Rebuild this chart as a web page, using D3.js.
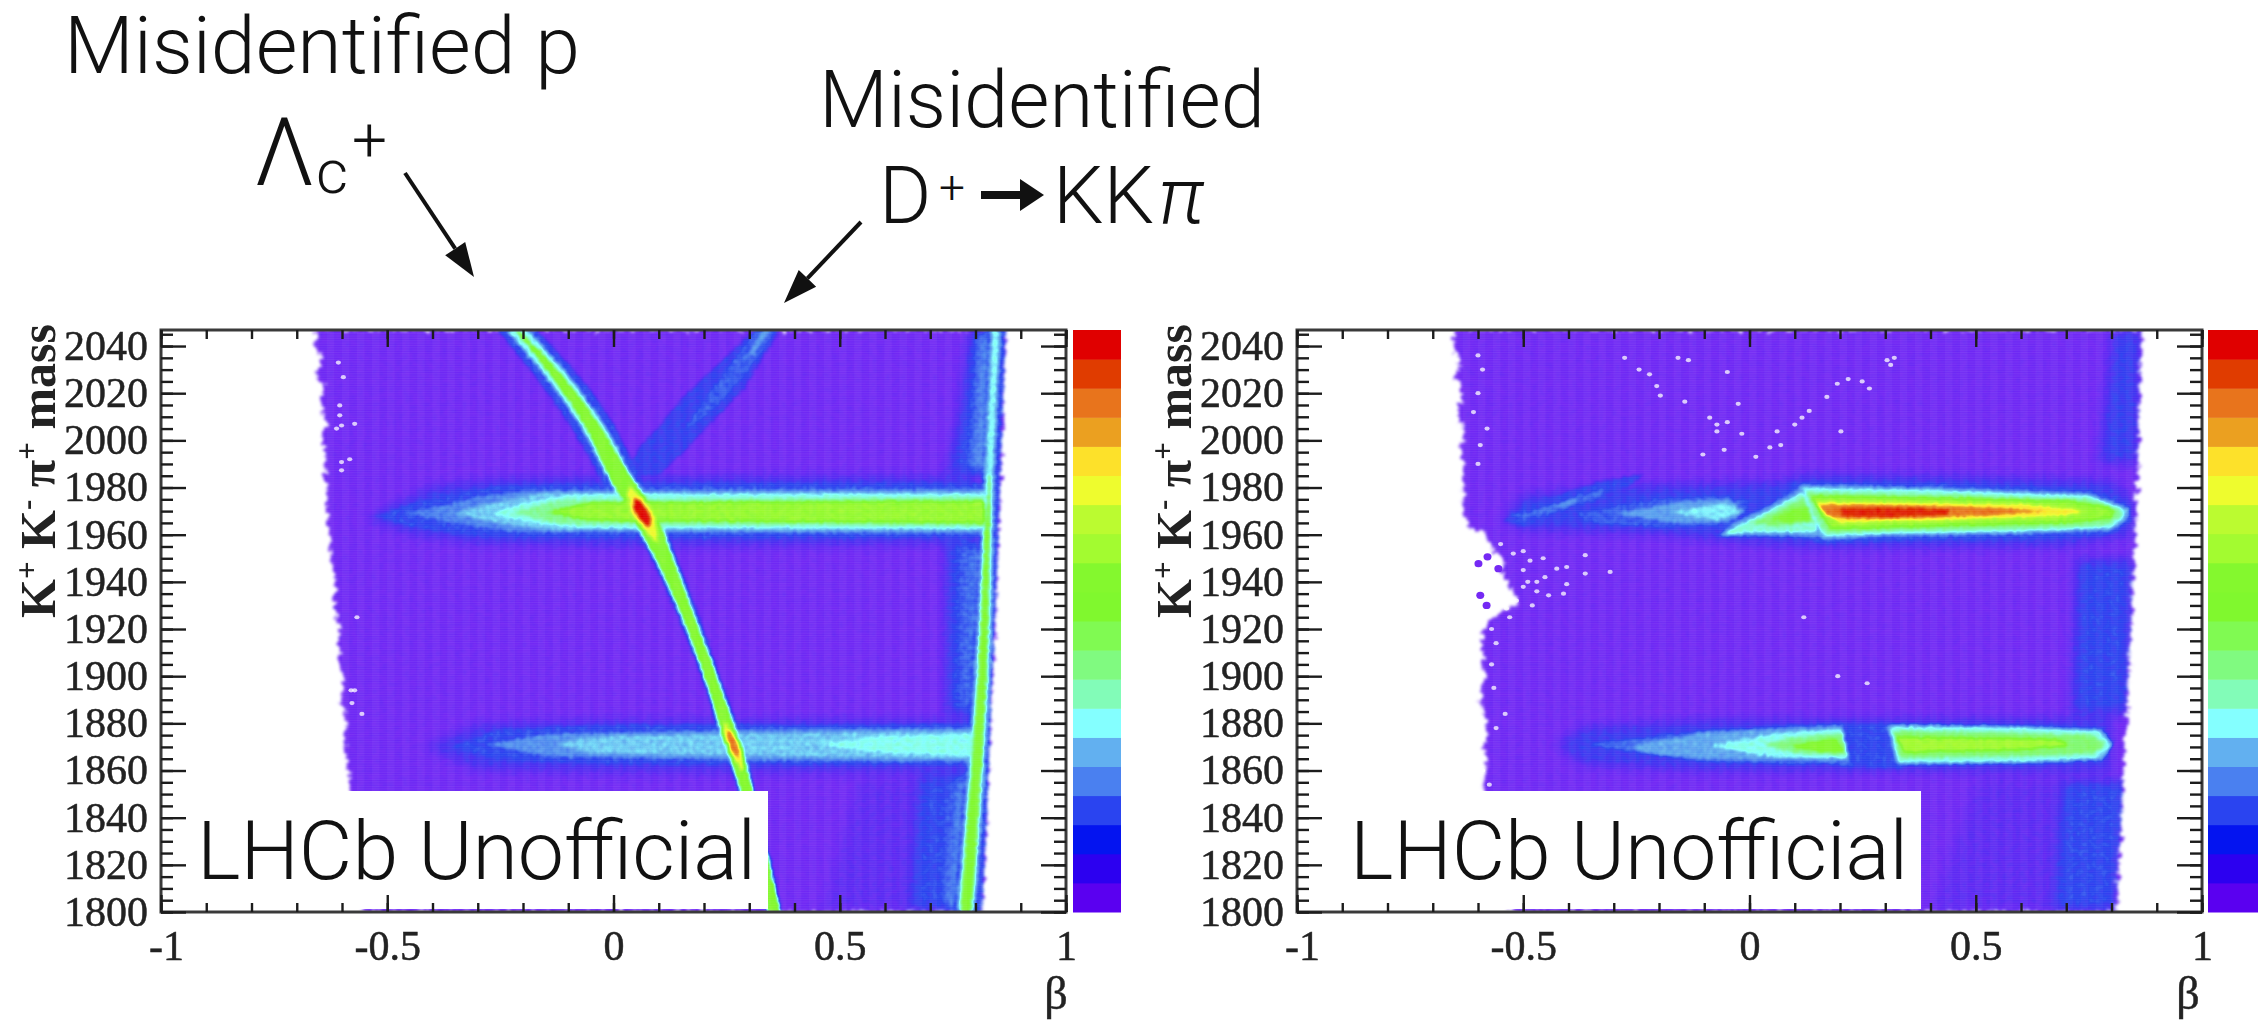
<!DOCTYPE html>
<html><head><meta charset="utf-8">
<style>html,body{margin:0;padding:0;background:#fff}svg{display:block}</style>
<script src="https://cdn.jsdelivr.net/npm/d3@7"></script>
</head><body><svg id="c" width="2261" height="1021"></svg>
<script>
// ---------- palette and axis values ----------
const palette=["#5a00f0","#2c00f0","#0414f0","#2a44f0","#4a80f0","#62b0f0","#84ffff","#82fcb8","#80fa80","#80fa52","#80f82e","#84f82e","#a3fb30","#bbfb30","#eefc2e","#fde12a","#eba020","#e8741c","#e03c00","#e00000"];
const heatStops=["#7529f4","#6428f4","#4a2ef2","#2a44f0","#4a80f0","#62b0f0","#84ffff","#82fcb8","#80fa80","#80fa52","#80f82e","#84f82e","#a3fb30","#bbfb30","#eefc2e","#fde12a","#eba020","#e8741c","#e03c00","#e00000","#e00000"];
const betaMajor=[-1,-0.5,0,0.5,1];
const betaLabels=["-1","-0.5","0","0.5","1"];
const betaMinor=d3.range(-10,11).map(d=>d/10);
const massMajor=d3.range(1800,2041,20);
const massMinor=d3.range(1800,2046,5);
const barTicksLeft=[0,1,2,3,4,5,6];
const barTicksRight=[0,1,2,3,4,5,6,7];

// ---------- LEFT panel : [beta,mass] outlines, [z,outline] bands, [mass,beta,halfWidth] ribbons ----------
const leftEnvelope=[[-.655,2047],[-.66,2040],[-.645,2034],[-.655,2028],[-.64,2022],[-.648,2015],[-.635,2008],[-.645,2000],[-.635,1992],[-.64,1985],[-.63,1978],[-.635,1970],[-.628,1960],[-.625,1950],[-.615,1940],[-.618,1930],[-.605,1920],[-.608,1910],[-.598,1900],[-.602,1890],[-.59,1880],[-.595,1870],[-.585,1860],[-.58,1850],[-.575,1840],[-.57,1825],[-.56,1810],[-.552,1800],[.815,1800],[.825,1840],[.837,1898],[.845,1930],[.857,1996],[.862,2020],[.867,2047]];
const leftDiffuse=[
 [1.7,.7,[[.46,1800],[.72,1800],[.72,1856],[.54,1856]]],
 [3,1,[[.653,1800],[.82,1800],[.84,1858],[.675,1858]]],
 [3,1,[[.733,1884],[.84,1884],[.84,1956],[.733,1956]]],
 [2.8,1,[[.786,2047],[.86,2047],[.85,1986],[.735,1986],[.76,2010]]],
 [4.2,1,[[.735,1800],[.80,1800],[.83,1858],[.76,1858]]],
 [3.8,1,[[.775,1884],[.83,1884],[.84,1956],[.775,1956]]],
 [4.2,1,[[.808,2047],[.85,2047],[.84,1986],[.785,1986],[.8,2010]]],
 [2.8,.9,[[-.55,1967],[-.4,1981],[-.25,1984],[0,1985],[.8,1985],[.8,1956],[0,1955],[-.3,1956],[-.45,1960]]],
 [2.6,.9,[[-.42,1870],[-.3,1880],[0,1882],[.8,1882],[.8,1859],[0,1859],[-.3,1860]]]
];
const leftBands=[
 [3,[[-.53,1968],[-.42,1975],[-.25,1981],[0,1982],[.82,1982],[.82,1958.5],[0,1958.5],[-.3,1959],[-.45,1963]]],
 [4,[[-.46,1969],[-.3,1976],[-.2,1979],[.82,1979.5],[.82,1960.5],[-.2,1961],[-.3,1963]]],
 [5.3,[[-.36,1969],[-.25,1974.5],[-.15,1978],[.82,1978.3],[.82,1961.6],[-.15,1962],[-.25,1964.5]]],
 [6.4,[[-.27,1969],[-.17,1974.5],[-.08,1977],[.82,1977],[.82,1962.7],[-.08,1963.2],[-.17,1965]]],
 [7.6,[[-.22,1969.5],[-.12,1974.5],[.82,1975.8],[.82,1963.8],[-.12,1964.5]]],
 [11.6,[[-.15,1969.5],[-.05,1973.6],[.82,1974.3],[.82,1965],[-.05,1966]]],
 [3,[[-.36,1870],[-.25,1878],[0,1879.5],[.8,1880],[.8,1862],[0,1862.5],[-.25,1864]]],
 [4.3,[[-.28,1871],[-.15,1875.5],[.3,1877.3],[.8,1878],[.8,1863.5],[.3,1864.5],[-.15,1866]]],
 [5.3,[[-.13,1871],[-.05,1874.5],[.3,1875.8],[.8,1876.7],[.8,1865],[.3,1866],[-.05,1867.2]]],
 [6.2,[[.45,1871],[.6,1874.5],[.8,1875.6],[.8,1866],[.6,1867.5]]],
 [2.7,[[.02,1985],[.06,1998],[.1,2006],[.15,2018],[.24,2034],[.31,2047],[.37,2047],[.29,2022],[.2,2004],[.15,1994],[.1,1985]]],
 [3.4,[[.315,2047],[.362,2047],[.3,2030],[.22,2013],[.15,2003],[.22,2022]]],
 [4.6,[[.33,2047],[.35,2047],[.31,2037],[.29,2034]]]
];
const lambdaBlue=[[1800,.355,.018],[1851.7,.294,.02],[1871.6,.263,.025],[1898,.218,.022],[1932.7,.15,.026],[1952.5,.106,.03],[1969.5,.064,.04],[1985,.013,.045],[2006,-.046,.05],[2027.5,-.126,.05],[2047,-.214,.045]];
const lambdaCyan=[[1800,.355,.015],[1851.7,.294,.016],[1871.6,.263,.02],[1898,.218,.016],[1932.7,.15,.018],[1952.5,.106,.024],[1969.5,.064,.032],[1985,.013,.028],[2006,-.046,.027],[2027.5,-.126,.026],[2047,-.214,.024]];
const lambdaGreen=[[1800,.355,.011],[1851.7,.294,.011],[1871.6,.263,.014],[1898,.218,.011],[1932.7,.15,.012],[1952.5,.106,.018],[1969.5,.064,.026],[1985,.013,.022],[2006,-.046,.015],[2027.5,-.126,.011],[2047,-.214,.002]];
const spineOuter=[[1800,.785,.032],[1900,.82,.03],[1980,.838,.024],[2047,.85,.022]];
const spineLight=[[1800,.779,.02],[1900,.815,.018],[1980,.83,.012],[2047,.845,.012]];
const spineCyan=[[1800,.779,.016],[1900,.815,.012],[1980,.83,.007],[2047,.845,.006]];
const spineGreen=[[1800,.779,.012],[1900,.815,.009],[1960,.826,.005],[1985,.832,.001]];
const peakYellowA=[[1980,.037,.003],[1975,.05,.018],[1969.5,.063,.024],[1964,.077,.018],[1957,.095,.004]];
const peakOrangeA=[[1976,.048,.002],[1972,.056,.014],[1969.5,.063,.017],[1966,.072,.014],[1963,.079,.002]];
const peakRedA=[[1975,.05,.002],[1972,.056,.01],[1969.5,.063,.013],[1966,.07,.01],[1963.5,.076,.002]];
const peakYellowB=[[1880,.245,.002],[1875,.255,.012],[1871,.265,.015],[1866,.275,.012],[1860,.285,.002]];
const peakOrangeB=[[1877,.253,.002],[1872,.262,.008],[1869,.268,.008],[1865,.276,.002]];
const leftRibbons=[[3,lambdaBlue],[6,lambdaCyan],[11,lambdaGreen],[3,spineOuter],[5,spineLight],[6,spineCyan],[10,spineGreen],[14,peakYellowA],[17,peakOrangeA],[19,peakRedA],[14,peakYellowB],[17,peakOrangeB]];
const leftHoles=[[-.608,2033],[-.597,2026.8],[-.605,2014.8],[-.612,2005],[-.601,2006.3],[-.572,2007],[-.605,2010.6],[-.583,1992],[-.601,1990.8],[-.601,1987.3],[-.572,1894],[-.578,1888.6],[-.556,1884],[-.567,1925],[-.58,1894]];
const leftBlobs=[];

// ---------- RIGHT panel ----------
const rightEnvelope=[[-.65,2047],[-.655,2040],[-.64,2034],[-.65,2028],[-.635,2020],[-.645,2012],[-.63,2005],[-.64,1996],[-.628,1988],[-.636,1982],[-.632,1978],[-.632,1970],[-.621,1962.6],[-.588,1960.5],[-.57,1954.8],[-.54,1949],[-.548,1943.5],[-.529,1937.9],[-.507,1932],[-.536,1928],[-.57,1925],[-.588,1919.5],[-.592,1910],[-.585,1900],[-.595,1890],[-.58,1880],[-.585,1870],[-.58,1860],[-.592,1852],[-.57,1840],[-.56,1820],[-.527,1800],[.81,1800],[.825,1850],[.838,1900],[.853,1960],[.86,2000],[.867,2047]];
const rightDiffuse=[
 [1.7,.7,[[.4,1800],[.68,1800],[.72,1856],[.5,1856]]],
 [3,1,[[.67,1800],[.81,1800],[.84,1856],[.69,1856]]],
 [2.9,1,[[.71,1884],[.84,1884],[.85,1950],[.72,1950]]],
 [2.7,1,[[.77,1990],[.86,1990],[.867,2047],[.80,2047]]],
 [2.8,.95,[[-.55,1966],[-.5,1977],[-.3,1981],[.07,1983],[.12,1986],[.5,1985],[.8,1983],[.85,1975],[.85,1960],[.7,1955],[.15,1954.5],[0,1956],[-.2,1960],[-.5,1962]]],
 [2.8,.9,[[-.43,1871],[-.37,1879],[-.1,1882],[.8,1882.5],[.8,1859.5],[-.1,1859.5],[-.37,1862]]]
];
const rightBands=[
 [3,[[.09,1982.5],[.4,1982],[.75,1979.5],[.84,1973],[.845,1966],[.8,1959.5],[.6,1958],[.3,1957],[.16,1956],[.09,1960]]],
 [5,[[.108,1981],[.4,1980],[.75,1977.5],[.835,1971.5],[.84,1967.5],[.8,1962],[.6,1960.5],[.3,1959.5],[.16,1958],[.125,1968]]],
 [6.4,[[.118,1979.7],[.4,1978.7],[.75,1976.3],[.825,1971],[.83,1968],[.8,1963],[.6,1961.5],[.3,1960.5],[.166,1959.3],[.135,1969]]],
 [7.8,[[.126,1978],[.4,1977.3],[.75,1975],[.815,1971],[.82,1968],[.79,1964],[.6,1962.5],[.3,1961.5],[.172,1960.5],[.143,1969]]],
 [11.5,[[.136,1976.5],[.4,1975.8],[.7,1974.3],[.785,1972.3],[.805,1970],[.8,1967],[.7,1965],[.4,1963.5],[.18,1962.3],[.155,1969]]],
 [14.5,[[.148,1974],[.4,1973.5],[.6,1973],[.72,1971],[.74,1969.5],[.7,1968],[.5,1966.5],[.2,1965],[.165,1969]]],
 [17,[[.15,1972.5],[.3,1972.8],[.44,1972],[.6,1970.8],[.66,1970],[.55,1968.4],[.44,1967.6],[.22,1966.6],[.17,1968]]],
 [18.5,[[.2,1971],[.3,1971.4],[.44,1970.8],[.44,1968],[.3,1967.4],[.2,1967.6]]],
 [4.5,[[-.07,1959],[-.04,1964.5],[.03,1971],[.115,1980],[.15,1962],[.16,1959],[-.01,1959.5]]],
 [6.6,[[-.055,1960],[-.02,1964.5],[.035,1969.5],[.115,1978],[.14,1968],[.15,1961],[.0,1961]]],
 [8.5,[[.01,1965],[.05,1969],[.12,1975.5],[.14,1966],[.06,1963.5]]],
 [10,[[.05,1967],[.1,1971],[.13,1972],[.135,1966],[.08,1965]]],
 [3.4,[[-.38,1969],[-.2,1975.5],[-.05,1976.5],[.0,1973],[-.04,1964],[-.2,1963],[-.35,1965]]],
 [4.6,[[-.3,1969],[-.15,1974],[-.05,1975],[-.01,1970],[-.05,1965.5],[-.15,1965]]],
 [5.8,[[-.18,1969.5],[-.05,1973.7],[-.015,1969.5],[-.07,1966]]],
 [2.8,[[-.545,1966],[-.5,1972],[-.33,1983],[-.23,1986],[-.26,1981],[-.4,1970],[-.5,1963]]],
 [3.6,[[-.53,1968],[-.47,1970],[-.38,1976],[-.32,1980],[-.33,1976],[-.42,1970.5],[-.5,1966]]],
 [4.6,[[-.49,1969.5],[-.42,1973],[-.37,1977],[-.4,1972.5]]],
 [3,[[.19,1880],[.34,1880],[.34,1861],[.2,1861]]],
 [3.6,[[-.36,1871],[-.1,1877],[.205,1880],[.222,1862.5],[-.1,1863.5]]],
 [4.8,[[-.25,1871],[-.1,1876],[.205,1878.8],[.22,1864.5],[-.1,1865],[-.25,1868]]],
 [6.2,[[-.09,1870.5],[.05,1875.6],[.204,1877.6],[.218,1865],[.05,1865.7]]],
 [8,[[.03,1871],[.1,1874],[.205,1875.7],[.215,1866.7],[.1,1867.3]]],
 [11,[[.09,1870.5],[.19,1873.5],[.21,1868],[.15,1868.3]]],
 [5,[[.305,1879.5],[.6,1879],[.78,1877.5],[.805,1871],[.78,1864.5],[.6,1863],[.325,1862.5]]],
 [6.4,[[.312,1878.5],[.6,1877.8],[.77,1876.5],[.797,1871],[.77,1865.5],[.6,1864],[.33,1863.5]]],
 [8.4,[[.318,1876.8],[.6,1875.8],[.76,1874.7],[.785,1870.8],[.76,1867.4],[.6,1866.2],[.333,1865.5]]],
 [12,[[.325,1874.3],[.5,1873.7],[.68,1873.2],[.71,1870.5],[.6,1868.8],[.34,1867.7]]]
];
const rightRibbons=[];
const rightHoles=[[-.276,2035],[-.244,2030],[-.221,2028],[-.205,2023],[-.197,2019],[-.143,2016.4],[-.088,2009.6],[-.072,2006.7],[-.049,2007.7],[-.025,2015.5],[-.049,2029],[-.135,2034],[-.158,2035],[-.072,2003.8],[-.017,2002.8],[-.103,1994],[-.056,1996],[.014,1993],[.045,1997],[.069,1998],[.061,2003.8],[.1,2006.7],[.116,2009.6],[.132,2012.5],[.171,2018.4],[.194,2024],[.218,2026],[.249,2025],[.265,2022],[.304,2034],[.32,2035],[.312,2032],[.202,2003.8],
 [-.522,1952],[-.485,1949],[-.456,1950],[-.426,1945.6],[-.404,1946.3],[-.452,1942],[-.47,1940],[-.404,1939],[-.363,1943.5],[-.308,1944.2],[-.444,1934.3],[-.411,1935],[-.5,1937.9],[-.515,1932],[-.537,1928.7],[-.363,1951.3],
 [-.50,1945],[-.49,1940],[-.47,1936],[-.48,1930],[-.53,1925],[-.5,1953],[-.55,1956],[-.57,1920],[-.56,1914],[.12,1925],[.195,1900],[.26,1897],[-.54,1884],[-.56,1878],[-.59,2030],[-.6,2020],[-.58,2005],[-.6,2036],[-.61,2012],[-.595,1998],[-.6,1990],[-.59,1860],[-.575,1854],[-.56,1850],[-.57,1905],[-.565,1895]];
const rightBlobs=[[-.599,1947.7],[-.579,1950.6],[-.555,1945.6],[-.595,1934.3],[-.581,1930]];

// ---------- text ----------
const annotationTop=["Misidentified p","Misidentified"];
const stampText="LHCb Unofficial";
const betaTitle="β";

const svg=d3.select("#c");
const defs=svg.append("defs");
const newFilter=id=>defs.append("filter").attr("id",id).attr("filterUnits","userSpaceOnUse").attr("x",0).attr("y",0).attr("width",2261).attr("height",1021).attr("color-interpolation-filters","sRGB");
(function(){
  const f=newFilter("heat");
  f.append("feTurbulence").attr("type","fractalNoise").attr("baseFrequency",.3).attr("numOctaves",2).attr("seed",4).attr("result","t1");
  f.append("feDisplacementMap").attr("in","SourceGraphic").attr("in2","t1").attr("scale",5).attr("xChannelSelector","R").attr("yChannelSelector","G").attr("result","d");
  f.append("feTurbulence").attr("type","fractalNoise").attr("baseFrequency",.3).attr("numOctaves",2).attr("seed",11).attr("result","t2");
  f.append("feColorMatrix").attr("in","t2").attr("type","matrix").attr("values","1 0 0 0 0 1 0 0 0 0 1 0 0 0 0 0 0 0 0 1").attr("result","n");
  f.append("feComposite").attr("in","d").attr("in2","n").attr("operator","arithmetic").attr("k1",0).attr("k2",1).attr("k3",.14).attr("k4",-.07).attr("result","m");
  f.append("feComposite").attr("in","m").attr("in2","d").attr("operator","in").attr("result","c");
  f.append("feGaussianBlur").attr("in","c").attr("stdDeviation",1.6).attr("result","b");
  const tr=f.append("feComponentTransfer").attr("in","b");
  const rgb=heatStops.map(c=>d3.rgb(c));
  [["feFuncR","r"],["feFuncG","g"],["feFuncB","b"]].forEach(([n,k])=>tr.append(n).attr("type","table").attr("tableValues",rgb.map(c=>(c[k]/255).toFixed(3)).join(" ")));
  const e=newFilter("edge");
  e.append("feTurbulence").attr("type","fractalNoise").attr("baseFrequency",.16).attr("numOctaves",2).attr("seed",7).attr("result","t");
  e.append("feDisplacementMap").attr("in","SourceGraphic").attr("in2","t").attr("scale",12).attr("xChannelSelector","R").attr("yChannelSelector","G");
  newFilter("soft").append("feGaussianBlur").attr("stdDeviation",6);
  newFilter("ink").append("feGaussianBlur").attr("stdDeviation",.7);
})();

const zGray=z=>{const v=Math.round(z/20*255);return d3.rgb(v,v,v).formatHex();};

function panel(opt){
  const x=d3.scaleLinear().domain([-1,1]).range([opt.x0,opt.x1]);
  const y=d3.scaleLinear().domain([1800,2046.8]).range([912,330]);
  const clipId="clip"+opt.x0;
  defs.append("clipPath").attr("id",clipId).append("rect").attr("x",opt.x0).attr("y",330).attr("width",opt.x1-opt.x0).attr("height",582);
  const g=svg.append("g").attr("clip-path",`url(#${clipId})`);
  const line=d3.line().x(d=>x(d[0])).y(d=>y(d[1])).curve(d3.curveLinearClosed);
  const ribbon=d3.area().y(d=>y(d[0])).x0(d=>x(d[1]-d[2])).x1(d=>x(d[1]+d[2])).curve(d3.curveCatmullRom.alpha(.5));
  const heat=g.append("g").attr("filter","url(#heat)");
  heat.append("g").attr("filter","url(#edge)").append("path").attr("d",line(opt.envelope)).attr("fill",zGray(.35));
  defs.append("clipPath").attr("id","env"+opt.x0).append("path").attr("d",line(opt.envelope));
  const inner=heat.append("g").attr("clip-path",`url(#env${opt.x0})`);
  const dg=inner.append("g").attr("filter","url(#soft)");
  opt.diffuse.forEach(([z,o,p])=>dg.append("path").attr("d",line(p)).attr("fill",zGray(z)).attr("opacity",o));
  const items=[...opt.bands.map(([z,p])=>({z,d:line(p)})),...opt.ribbons.map(([z,p])=>({z,d:ribbon(p)}))];
  inner.selectAll("path.band").data(d3.sort(items,d=>d.z)).join("path").attr("class","band")
    .attr("d",d=>d.d).attr("fill",d=>zGray(d.z));
  const st=g.append("g").attr("fill","#fff");
  st.selectAll("rect.r").data(d3.range(1800,2047,1)).join("rect").attr("class","r")
    .attr("x",opt.x0).attr("width",opt.x1-opt.x0).attr("y",d=>y(d+.5)).attr("height",y(1800)-y(1800.5)).attr("opacity",.06);
  st.selectAll("rect.c").data(d3.range(-100,100,3.33)).join("rect").attr("class","c")
    .attr("y",330).attr("height",582).attr("x",d=>x(d/100)).attr("width",x(.0167)-x(0)).attr("opacity",.035);
  const hg=g.append("g").attr("filter","url(#ink)");
  hg.selectAll("ellipse.h").data(opt.holes).join("ellipse").attr("class","h")
    .attr("cx",d=>x(d[0])).attr("cy",d=>y(d[1])).attr("rx",2.6).attr("ry",2.1).attr("fill","#fff").attr("opacity",.75);
  hg.selectAll("ellipse.b").data(opt.blobs).join("ellipse").attr("class","b")
    .attr("cx",d=>x(d[0])).attr("cy",d=>y(d[1])).attr("rx",4).attr("ry",3.6).attr("fill","#7529f4");

  svg.append("rect").attr("x",opt.boxX0).attr("y",791).attr("width",opt.boxX1-opt.boxX0).attr("height",118).attr("fill","#fff");
  svg.append("text").attr("x",opt.textX).attr("y",879).attr("textLength",opt.textW).attr("lengthAdjust","spacingAndGlyphs")
    .style("font","300 82px Roboto").attr("fill","#111").text(stampText);

  const ax=svg.append("g").attr("filter","url(#ink)").attr("fill","none");
  ax.append("rect").attr("x",opt.x0).attr("y",330).attr("width",opt.x1-opt.x0).attr("height",582).attr("stroke","#3a3a3a").attr("stroke-width",3);
  const styleAxis=s=>{s.select(".domain").remove();s.selectAll("line").attr("stroke","#1c1c1c").attr("stroke-width",2.4);s.selectAll("text").attr("fill","#222").attr("stroke","#222").attr("stroke-width",.5).style("font","42px 'Liberation Serif'");};
  ax.append("g").attr("transform","translate(0,912)").call(d3.axisBottom(x).tickValues(betaMinor).tickSize(-9).tickFormat("")).call(styleAxis);
  ax.append("g").attr("transform","translate(0,912)").call(d3.axisBottom(x).tickValues(betaMajor).tickSize(-17).tickPadding(18).tickFormat((d,i)=>betaLabels[i])).call(styleAxis)
    .call(s=>s.selectAll(".tick text").filter(d=>d===-1).attr("dx",5));
  ax.append("g").attr("transform","translate(0,330)").call(d3.axisTop(x).tickValues(betaMinor).tickSize(-9).tickFormat("")).call(styleAxis);
  ax.append("g").attr("transform","translate(0,330)").call(d3.axisTop(x).tickValues(betaMajor).tickSize(-17).tickFormat("")).call(styleAxis);
  ax.append("g").attr("transform",`translate(${opt.x0},0)`).call(d3.axisLeft(y).tickValues(massMinor).tickSize(-12).tickFormat("")).call(styleAxis);
  ax.append("g").attr("transform",`translate(${opt.x0},0)`).call(d3.axisLeft(y).tickValues(massMajor).tickSize(-25).tickPadding(13).tickFormat(d3.format("d"))).call(styleAxis);
  ax.append("g").attr("transform",`translate(${opt.x1},0)`).call(d3.axisRight(y).tickValues(massMinor).tickSize(-12).tickFormat("")).call(styleAxis);
  ax.append("g").attr("transform",`translate(${opt.x1},0)`).call(d3.axisRight(y).tickValues(massMajor).tickSize(-25).tickFormat("")).call(styleAxis);

  const tg=svg.append("g").attr("filter","url(#ink)").attr("fill","#222");
  tg.append("text").attr("x",opt.betaX).attr("y",1009).attr("text-anchor","middle").attr("stroke","#222").attr("stroke-width",.5).style("font","46px 'Liberation Serif'").text(betaTitle);
  const yt=tg.append("text").attr("transform",`translate(${opt.x0-106},618) rotate(-90)`).style("font","bold 50px 'Liberation Serif'");
  const sup=(s)=>yt.append("tspan").attr("dy",-18).style("font-size","31px").text(s);
  const base=(s)=>yt.append("tspan").attr("dy",18).text(s);
  yt.append("tspan").text("K");sup("+");base(" K");sup("-");base(" π");sup("+");base(" mass");

  const bar=d3.scaleLinear().domain([0,20]).range([912,330]);
  svg.append("g").attr("filter","url(#ink)").selectAll("rect").data(palette).join("rect")
    .attr("x",opt.bx0).attr("width",opt.bx1-opt.bx0).attr("y",(d,i)=>bar(i+1)).attr("height",bar(0)-bar(1)+.5).attr("fill",d=>d);
  const bt=d3.scaleLinear().domain(opt.barDomain).range([912,330]);
  svg.append("g").attr("filter","url(#ink)").attr("transform",`translate(${opt.bx1},0)`)
    .call(d3.axisRight(bt).tickValues(opt.barTicks).tickSize(-24).tickFormat(""))
    .call(s=>{s.select(".domain").remove();s.selectAll("line").attr("stroke","#222").attr("stroke-width",2.4);});
}

panel({x0:161,x1:1066,boxX0:179,boxX1:768,textX:197,textW:559,bx0:1073,bx1:1121,betaX:1056,barDomain:[-.03,6.37],barTicks:barTicksLeft,
  envelope:leftEnvelope,diffuse:leftDiffuse,bands:leftBands,ribbons:leftRibbons,holes:leftHoles,blobs:leftBlobs});
panel({x0:1297,x1:2202,boxX0:1322,boxX1:1921,textX:1350,textW:558,bx0:2208,bx1:2258,betaX:2188,barDomain:[-.01,7.45],barTicks:barTicksRight,
  envelope:rightEnvelope,diffuse:rightDiffuse,bands:rightBands,ribbons:rightRibbons,holes:rightHoles,blobs:rightBlobs});

const an=svg.append("g").attr("fill","#111").style("font","300 80px Roboto");
an.append("text").attr("x",64).attr("y",73).attr("textLength",516).attr("lengthAdjust","spacingAndGlyphs").text(annotationTop[0]);
an.append("text").attr("x",819).attr("y",127).attr("textLength",446).attr("lengthAdjust","spacingAndGlyphs").text(annotationTop[1]);
an.append("text").attr("x",254).attr("y",185).style("font-size","94px").text("Λ");
an.append("text").attr("x",316).attr("y",193).style("font-size","62px").text("c");
an.append("text").attr("x",352).attr("y",161).style("font-size","62px").text("+");
an.append("text").attr("x",879).attr("y",223).text("D");
an.append("text").attr("x",939).attr("y",203).style("font-size","46px").text("+");
an.append("text").attr("x",1053).attr("y",223).text("KK");
an.append("text").attr("x",1158).attr("y",223).style("font-style","italic").text("π");
const arrow=(x1,y1,x2,y2,w,hl,hw)=>{
  const a=Math.atan2(y2-y1,x2-x1),c=Math.cos(a),s=Math.sin(a);
  const bx=x2-c*hl,by=y2-s*hl;
  an.append("line").attr("x1",x1).attr("y1",y1).attr("x2",bx).attr("y2",by).attr("stroke","#111").attr("stroke-width",w);
  an.append("path").attr("d",d3.line()([[x2,y2],[bx-s*hw,by+c*hw],[bx,by],[bx+s*hw,by-c*hw]])+"Z");
};
arrow(405,173,474,277,4,34,12);
arrow(861,222,784,303,4,34,12);
arrow(981,195,1044,195,8,24,16);
</script></body></html>
